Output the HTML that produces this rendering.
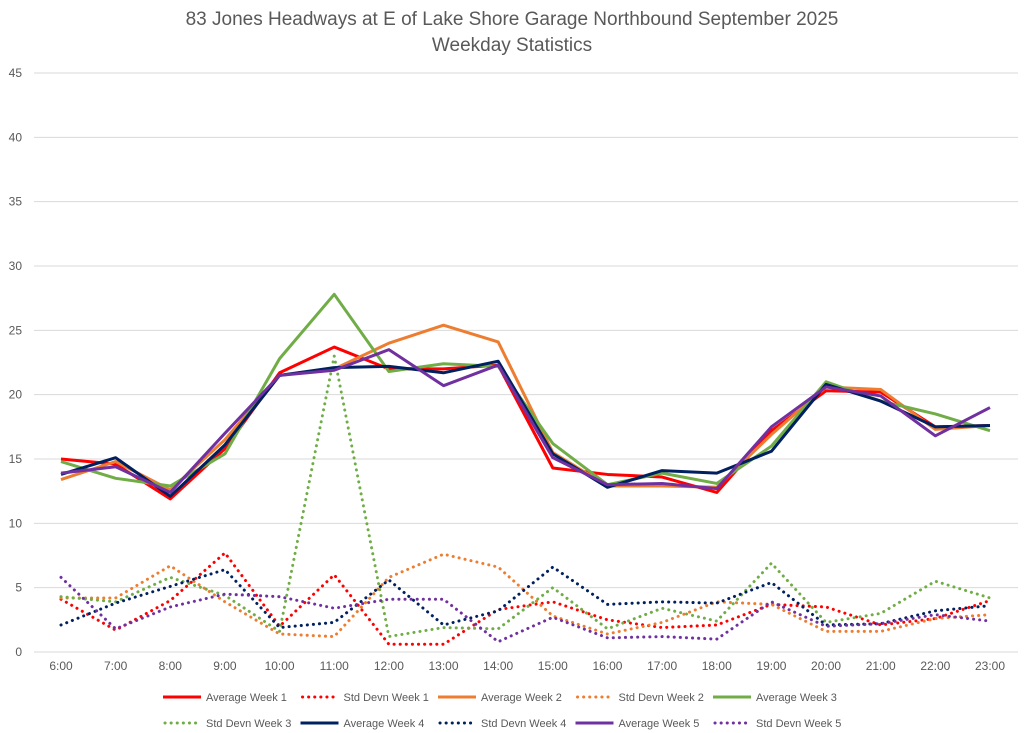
<!DOCTYPE html>
<html><head><meta charset="utf-8"><style>
body{margin:0;background:#fff;}
svg{display:block;font-family:"Liberation Sans",sans-serif;}
</style></head><body>
<svg id="chart" width="1024" height="733">
<text x="512" y="25" text-anchor="middle" font-size="19" fill="#595959">83 Jones Headways at E of Lake Shore Garage Northbound September 2025</text>
<text x="512" y="51" text-anchor="middle" font-size="19" fill="#595959">Weekday Statistics</text>
<g id="grid"></g><g id="series"></g><g id="legend"></g>
</svg>
<script>
const categories=["6:00","7:00","8:00","9:00","10:00","11:00","12:00","13:00","14:00","15:00","16:00","17:00","18:00","19:00","20:00","21:00","22:00","23:00"];
const yTicks=[0,5,10,15,20,25,30,35,40,45];
const avgW1=[15.0,14.6,11.9,15.8,21.7,23.7,22.0,22.0,22.3,14.3,13.8,13.6,12.4,17.2,20.3,20.2,17.5,17.6];
const avgW2=[13.4,14.8,12.6,16.5,21.5,22.0,24.0,25.4,24.1,15.5,12.9,12.9,12.8,16.9,20.6,20.4,17.3,17.6];
const avgW3=[14.8,13.5,12.9,15.4,22.8,27.8,21.8,22.4,22.2,16.2,13.0,13.9,13.1,16.0,21.0,19.5,18.5,17.2];
const avgW4=[13.8,15.1,12.1,16.1,21.5,22.1,22.2,21.7,22.6,15.4,12.8,14.1,13.9,15.6,20.8,19.5,17.5,17.6];
const avgW5=[13.9,14.4,12.4,17.0,21.5,21.9,23.5,20.7,22.3,15.1,13.0,13.1,12.7,17.5,20.6,19.9,16.8,19.0];
const sdW1=[4.1,1.7,4.0,7.7,2.0,6.0,0.6,0.6,3.3,3.9,2.5,1.9,2.1,3.7,3.5,2.1,2.6,4.0];
const sdW2=[4.2,4.2,6.7,3.9,1.4,1.2,5.8,7.6,6.6,2.8,1.4,2.3,3.9,3.7,1.6,1.6,2.6,2.9];
const sdW3=[4.3,3.9,5.8,4.4,1.6,23.0,1.2,1.9,1.8,5.0,1.8,3.4,2.4,6.9,2.3,3.0,5.5,4.2];
const sdW4=[2.1,3.8,5.1,6.4,1.9,2.3,5.6,2.1,3.2,6.6,3.7,3.9,3.8,5.4,2.1,2.2,3.2,3.6];
const sdW5=[5.8,1.8,3.5,4.5,4.3,3.4,4.1,4.1,0.8,2.7,1.1,1.2,1.0,3.9,2.0,2.2,2.9,2.4];

const NS="http://www.w3.org/2000/svg";
const X0=61,X1=990,Y0=652,YTOP=73,YMAX=45;
const xS=i=>X0+i*(X1-X0)/(categories.length-1);
const yS=v=>Y0-v*(Y0-YTOP)/YMAX;
function mk(tag,attrs,parent){const e=document.createElementNS(NS,tag);for(const k in attrs)e.setAttribute(k,attrs[k]);parent.appendChild(e);return e;}
const grid=document.getElementById('grid');
yTicks.forEach(t=>{
  const l=mk('line',{x1:34,x2:1018,y1:yS(t),y2:yS(t),stroke:'#d9d9d9','stroke-width':1},grid);
  
  
  const tx=mk('text',{x:22,y:yS(t)+4,'text-anchor':'end','font-size':12,fill:'#595959'},grid);
  tx.textContent=t;
  
  
});
categories.forEach((c,i)=>{
  const tx=mk('text',{x:xS(i),y:670,'text-anchor':'middle','font-size':12,fill:'#595959'},grid);
  tx.textContent=c;
  
  
});
const series=[
 ["Average Week 1",avgW1,"#ff0000",false],["Std Devn Week 1",sdW1,"#ff0000",true],
 ["Average Week 2",avgW2,"#ed7d31",false],["Std Devn Week 2",sdW2,"#ed7d31",true],
 ["Average Week 3",avgW3,"#70ad47",false],["Std Devn Week 3",sdW3,"#70ad47",true],
 ["Average Week 4",avgW4,"#002060",false],["Std Devn Week 4",sdW4,"#002060",true],
 ["Average Week 5",avgW5,"#7030a0",false],["Std Devn Week 5",sdW5,"#7030a0",true]];
const sg=document.getElementById('series');
const order=[1,3,5,7,9,0,2,4,6,8];
order.forEach(k=>{
  const [name,vals,col,dot]=series[k];
  const a={points:vals.map((v,i)=>xS(i)+','+yS(v)).join(' '),fill:'none',stroke:col,'stroke-width':3,'stroke-linejoin':'round'};
  if(dot){a['stroke-dasharray']='0.1 6';a['stroke-linecap']='round';a['stroke-width']=3;}
  const p=mk('polyline',a,sg);
  
  
});
const lg=document.getElementById('legend');
series.forEach((s,k)=>{
  const row=Math.floor(k/5),col=k%5;
  const x=163+col*137.5,y=row?723:697;
  const g=mk('g',{},lg);
  
  
  const a={x1:x,x2:x+38,y1:y,y2:y,stroke:s[2],'stroke-width':3};
  if(s[3]){a['stroke-dasharray']='0.1 6';a['stroke-linecap']='round';a.x1=x+2;}
  mk('line',a,g);
  const t=mk('text',{x:x+43,y:y+4,'font-size':11,fill:'#595959'},g);
  t.textContent=s[0];
});
</script>
</body></html>
